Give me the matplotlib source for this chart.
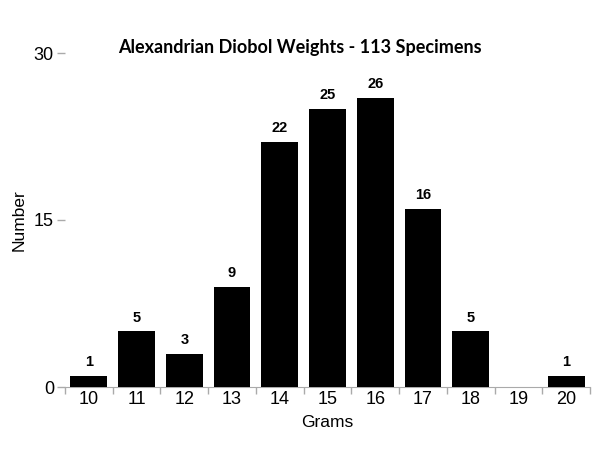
import matplotlib
matplotlib.use("Agg")
import matplotlib.pyplot as plt
import numpy as np

grams = [10, 11, 12, 13, 14, 15, 16, 17, 18, 19, 20]
counts = [1, 5, 3, 9, 22, 25, 26, 16, 5, 0, 1]
title = "Alexandrian Diobol Weights - 113 Specimens"

plt.rcParams['font.family'] = ['Liberation Sans', 'DejaVu Sans']

fig = plt.figure(figsize=(6, 4.63), dpi=100)
ax = fig.add_axes([65/600, 1-387/463, 525/600, (387-53)/463])

x = np.arange(len(grams))
ax.bar(x, counts, width=0.77, color='black', zorder=3)
for xi, c in zip(x, counts):
    if c > 0:
        ax.text(xi, c + 0.6, str(c), ha='center', va='bottom', fontsize=10.5, fontweight='bold')

ax.set_xlim(-0.5, len(grams) - 0.5)
ax.set_ylim(0, 30)
ax.set_yticks([0, 15, 30])
ax.set_yticklabels(['0', '15', '30'], fontsize=13)
ax.set_xticks(x)
ax.set_xticklabels([str(g) for g in grams], fontsize=13)
ax.set_xticks(np.arange(-0.5, len(grams)), minor=True)
ax.tick_params(axis='x', which='major', length=0, pad=3)
ax.tick_params(axis='x', which='minor', length=5, color='#aaaaaa', width=1)
ax.tick_params(axis='y', length=6, color='#aaaaaa', width=1, pad=2)

for s in ['top', 'right', 'left']:
    ax.spines[s].set_visible(False)
ax.spines['bottom'].set_color('#aaaaaa')

ax.set_xlabel('Grams', fontsize=12.5, labelpad=5)
ax.set_ylabel('Number', fontsize=12.5, labelpad=5)
fig.text(0.5, 1-48/463, title, ha='center', va='center', fontsize=13,
         fontweight='bold', family=['Lato', 'DejaVu Sans'])

fig.savefig('out.png', dpi=100)
